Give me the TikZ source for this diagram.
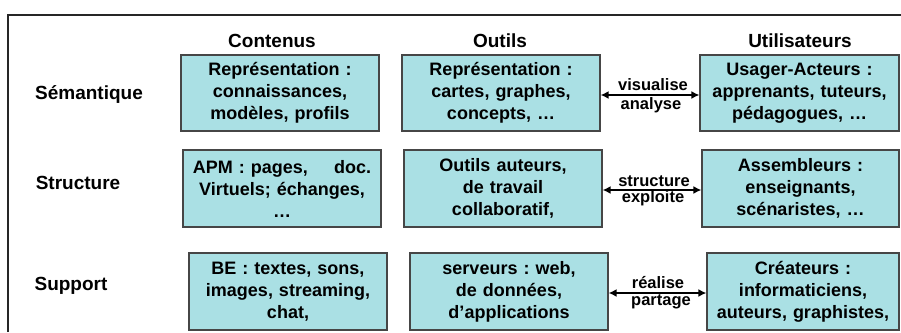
\documentclass[tikz,border=0pt]{standalone}
\usepackage{fontspec}
\setmainfont{Liberation Sans}
\usetikzlibrary{arrows.meta}
\frenchspacing
\definecolor{cfill}{RGB}{170,224,228}
\definecolor{cline}{RGB}{70,70,70}
\tikzset{cbox/.style={rectangle,draw=cline,line width=1.2pt,fill=cfill,minimum width=198,minimum height=77,
           text width=190,align=center,inner sep=1pt,font=\bfseries\fontsize{18}{22}\selectfont},
	 chead/.style={font=\bfseries\fontsize{19}{22}\selectfont,inner sep=0pt},
	 clab/.style={font=\bfseries\fontsize{16.5}{18}\selectfont,inner sep=0pt},
	 carrow/.style={{Latex[length=8pt,width=8pt]}-{Latex[length=8pt,width=8pt]},line width=2.2pt}
	 }
\begin{document}
\begin{tikzpicture}[x=1pt,y=-1pt]
      \useasboundingbox (0,0) rectangle (901,332);
      \draw[black!85,line width=1.5pt] (8,332) -- (8,15) -- (901,15);
      \node[chead] (hc) at (272,41) {Contenus};
      \node[chead] (ho) at (500,41) {Outils};
      \node[chead] (hu) at (800,41) {Utilisateurs};
      \node[chead] (rs) at (89,95) {Sémantique};
      \node[chead] (rt) at (78,183) {Structure};
      \node[chead] (rp) at (71,286) {Support};
      \node[cbox,minimum height=76] (c1) at (280,93) {Représentation :\\ connaissances,\\ modèles, profils};
      \node[cbox,minimum height=76] (o1) at (501,93) {Représentation :\\ cartes, graphes,\\ concepts, …};
      \node[cbox,minimum height=76,minimum width=199] (u1) at (799.5,93) {Usager-Acteurs :\\ apprenants, tuteurs,\\ pédagogues, …};
      \node[cbox] (c2) at (282,188.5) {APM : pages,\hspace{20pt} doc.\\ Virtuels; échanges,\\ …};
      \node[cbox] (o2) at (503,188.5) {Outils auteurs,\\ de travail\\ collaboratif,};
      \node[cbox,minimum width=197] (u2) at (800.5,188.5) {Assembleurs :\\ enseignants,\\ scénaristes, …};
      \node[cbox] (c3) at (288,291.5) {BE : textes, sons,\\ images, streaming,\\ chat,};
      \node[cbox] (o3) at (509,291.5) {serveurs : web,\\ de données,\\ d’applications};
      \node[cbox,minimum width=192] (u3) at (803,291.5) {Créateurs :\\ informaticiens,\\ auteurs, graphistes,};
      \draw[carrow] ([yshift=-2pt]o1.east) -- ([yshift=-2pt]u1.west);
      \draw[carrow] ([yshift=-1.5pt]o2.east) -- ([yshift=-1.5pt]u2.west);
      \draw[carrow] ([yshift=-1.5pt]o3.east) -- ([yshift=-1.5pt]u3.west);
      \node[clab] (l1a) at (653,85) {visualise};
      \node[clab] (l1b) at (651,105) {analyse};
      \node[clab] (l2a) at (654,181) {structure};
      \node[clab] (l2b) at (653,198) {exploite};
      \node[clab] (l3a) at (658,283) {réalise};
      \node[clab] (l3b) at (661,302) {partage};
\end{tikzpicture}
\end{document}
